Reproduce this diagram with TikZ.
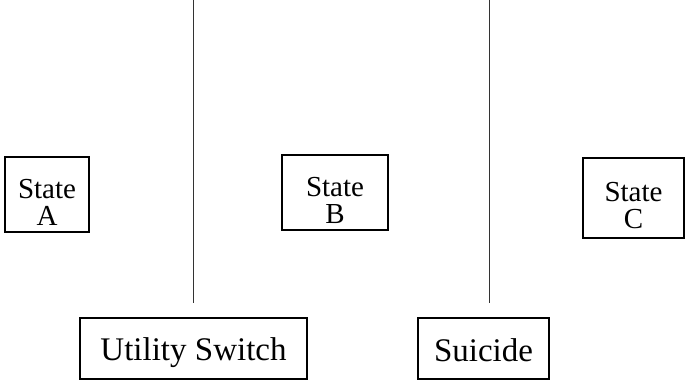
\documentclass[tikz,border=0pt]{standalone}
\usepackage{fontspec}
\setmainfont{Liberation Serif}
\begin{document}
\begin{tikzpicture}[x=1pt,y=-1pt,
  box/.style={draw,line width=2pt,inner sep=0pt},
  boxtext/.style={align=center,inner sep=0pt,font=\fontsize{29}{27}\selectfont},
  bigtext/.style={inner sep=0pt,font=\fontsize{33}{33}\selectfont},
  divider/.style={line width=1pt,draw=black!80}]
\useasboundingbox (0,0) rectangle (700,381);
\node[box,minimum width=84pt,minimum height=75pt,
  label={[boxtext,yshift=-8pt]center:State\\A}] (A) at (47,194.5) {};
\node[box,minimum width=106pt,minimum height=75pt,
  label={[boxtext,yshift=-8pt]center:State\\B}] (B) at (335,192.5) {};
\node[box,minimum width=101pt,minimum height=80pt,
  label={[boxtext,yshift=-8pt]center:State\\C}] (C) at (633.5,198) {};
\node[box,minimum width=227pt,minimum height=61pt,
  label={[bigtext,yshift=-4pt]center:Utility Switch}] (U) at (193.5,348.5) {};
\node[box,minimum width=131pt,minimum height=61pt,
  label={[bigtext,yshift=-2pt]center:Suicide}] (S) at (483.5,348.5) {};
\coordinate (t1) at (193,0);
\coordinate (b1) at (193,303);
\coordinate (t2) at (489,0);
\coordinate (b2) at (489,303);
\draw[divider] (t1) -- (b1);
\draw[divider] (t2) -- (b2);
\end{tikzpicture}
\end{document}
